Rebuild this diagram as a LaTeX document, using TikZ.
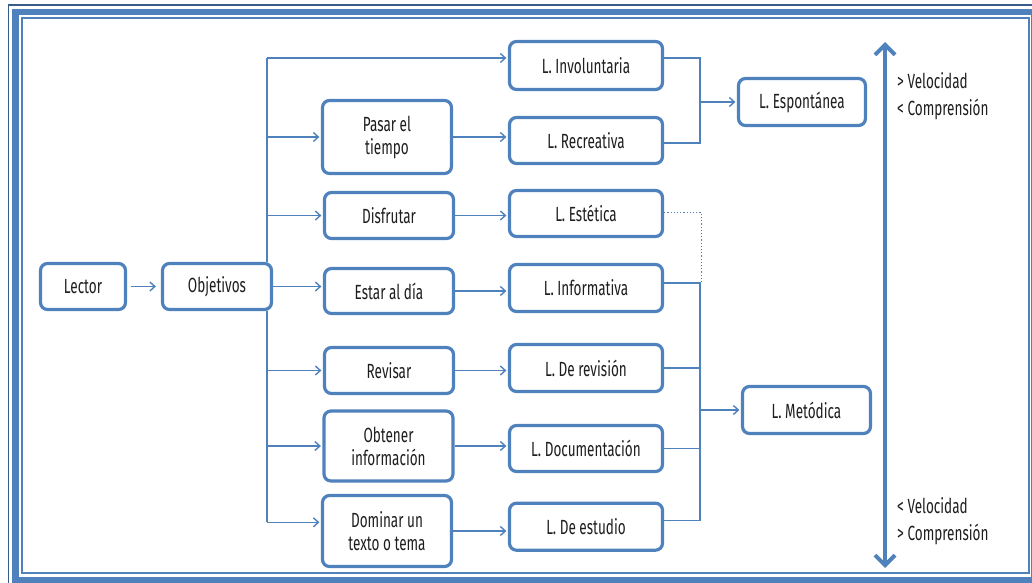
\documentclass[tikz,border=0pt]{standalone}
\usepackage{fontspec}
\setmainfont{Fira Sans}[FakeStretch=0.66]
\usetikzlibrary{arrows.meta}
\definecolor{bblue}{HTML}{4F81BD}
\definecolor{dblue}{HTML}{385D8A}
\definecolor{txt}{HTML}{1E1E1E}
\begin{document}
\begin{tikzpicture}[x=1pt,y=-1pt,
  box/.style={draw=bblue, line width=3.2pt, rounded corners=7pt, fill=white, align=center, inner sep=0pt, text=txt, font=\fontsize{20.5}{23}\selectfont},
  midbox/.style={box, minimum width=129pt},
  lbox/.style={box, minimum width=153pt},
  conn/.style={draw=bblue, line width=1.4pt},
  arr/.style={conn, -{Straight Barb[length=5pt,width=9pt]}, shorten >=1.5pt},
  lbl/.style={text=txt, font=\fontsize{20.5}{27}\selectfont, align=left, anchor=west, inner sep=0pt}
]
\useasboundingbox (0,0) rectangle (1032,582);
\begin{scope}
\clip (0,0) rectangle (1032,582);
\draw[dblue, line width=1.5pt] (8.5,5) rectangle (1045,595);
\draw[bblue, line width=6.5pt] (15.5,12) rectangle (1034.5,580.5);
\draw[bblue, line width=1.5pt] (22,18) rectangle (1029,573);
\end{scope}

% left nodes
\node[box, minimum width=85pt, minimum height=46pt] (lector) at (83,286.5) {Lector};
\node[box, minimum width=109pt, minimum height=46pt] (obj) at (217,286.5) {Objetivos};
% middle column
\node[midbox, minimum height=73pt] (pasar) at (387,137) {Pasar el\\tiempo};
\node[midbox, minimum height=46pt] (disf) at (389,215.5) {Disfrutar};
\node[midbox, minimum height=45pt] (estar) at (389,291) {Estar al día};
\node[midbox, minimum height=46pt] (revisar) at (389,370.5) {Revisar};
\node[midbox, minimum height=70pt] (obtener) at (388.5,446) {Obtener\\información};
\node[midbox, minimum height=71pt] (dominar) at (387,531) {Dominar un\\texto o tema};
% L column
\node[lbox, minimum height=48pt] (inv) at (586,65.5) {L. Involuntaria};
\node[lbox, minimum height=46pt] (rec) at (586,140.5) {L. Recreativa};
\node[lbox, minimum height=46pt] (est) at (586,213.5) {L. Estética};
\node[lbox, minimum height=47pt] (info) at (586,288) {L. Informativa};
\node[lbox, minimum height=47pt] (rev) at (586,368) {L. De revisión};
\node[lbox, minimum height=46pt] (doc) at (586,448.5) {L. Documentación};
\node[lbox, minimum height=47pt] (estud) at (586,526.7) {L. De estudio};
% right
\node[box, minimum width=127pt, minimum height=47pt] (esp) at (802,102) {L. Espontánea};
\node[box, minimum width=128pt, minimum height=47pt] (met) at (806.5,410) {L. Metódica};

% connectors
\draw[arr, shorten <=4pt, shorten >=5pt] (lector.east) -- (obj.west);
\coordinate (tt) at (267,58);
\coordinate (tb) at (267,522.3);
\draw[conn] (obj.north -| tt) -- (tt);
\draw[conn] (obj.south -| tt) -- (tb);
\draw[arr] (tt) -- (tt -| inv.west);
\draw[arr] (tt |- pasar.west) -- (pasar.west);
\draw[arr] (tt |- disf.west) -- (disf.west);
\draw[arr] (obj.east) -- (obj.east -| estar.west);
\draw[arr] (tt |- revisar.west) -- (revisar.west);
\draw[arr] (tt |- obtener.west) -- (obtener.west);
\draw[arr] (tb) -- (tb -| dominar.west);

\draw[arr] (pasar.east) -- (pasar.east -| rec.west);
\draw[arr] (disf.east) -- (disf.east -| est.west);
\draw[arr] (estar.east) -- (estar.east -| info.west);
\draw[arr] (revisar.east) -- (revisar.east -| rev.west);
\draw[arr] (obtener.east) -- (obtener.east -| doc.west);
\draw[arr] (dominar.east) -- (dominar.east -| estud.west);

\coordinate (j1) at (700,58);
\coordinate (j2) at (700,143);
\draw[conn] (inv.east |- j1) -- (j1) -- (j2) -- (rec.east |- j2);
\draw[arr] (j1 |- esp.west) -- (esp.west);

\coordinate (j3) at (700,283);
\coordinate (j4) at (700,520.7);
\coordinate (d1) at (701.5,212.7);
\draw[conn, line width=1.2pt, dotted] (est.east |- d1) -- (d1) -- (d1 |- j3);
\draw[conn] (info.east |- j3) -- (j3) -- (j4) -- (estud.east |- j4);
\draw[conn] (rev.east) -- (rev.east -| j3);
\draw[conn] (doc.east) -- (doc.east -| j3);
\draw[arr] (j3 |- met.west) -- (met.west);

% big arrow
\coordinate (vt) at (885,42);
\coordinate (vb) at (885,568);
\draw[bblue, line width=4pt, {Straight Barb[length=10pt,width=20pt]}-{Straight Barb[length=10pt,width=20pt]}] (vt) -- (vb);

\node[lbl] (labtop) at (897,96.5) {> Velocidad\\< Comprensión};
\node[lbl] (labbot) at (897,521) {< Velocidad\\> Comprensión};
\end{tikzpicture}
\end{document}
